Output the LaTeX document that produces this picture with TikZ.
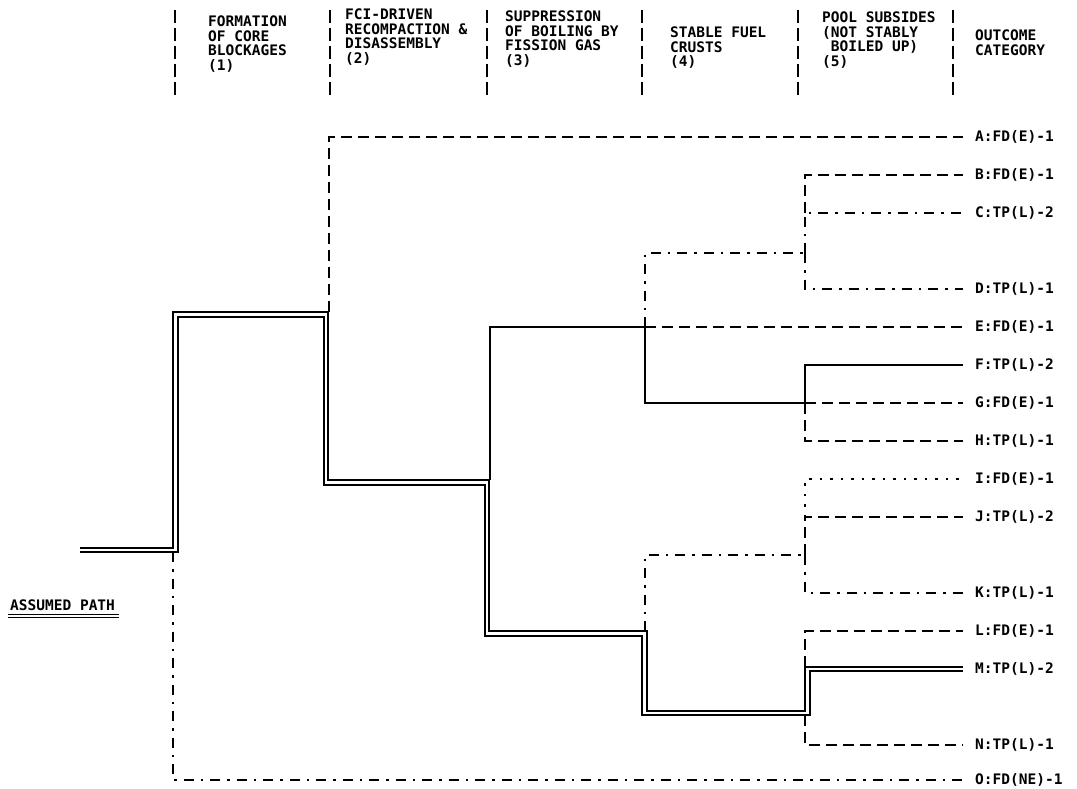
\documentclass[tikz,border=0pt]{standalone}
\usepackage{fontspec}
\newfontfamily\monofam{DejaVu Sans Mono}
\begin{document}
\begin{tikzpicture}[x=1pt,y=-1pt,
  ln/.style={line width=1.8pt, line join=miter},
  solidln/.style={ln},
  dashedln/.style={ln, dash pattern=on 11pt off 6pt},
  dashdot/.style={ln, dash pattern=on 10pt off 7pt on 2.5pt off 7pt},
  dottedln/.style={ln, dash pattern=on 2.5pt off 8pt},
  dbl/.style={line width=1.9pt, double=white, double distance=2.4pt, line join=miter},
  bar/.style={line width=2.4pt, dash pattern=on 13pt off 5pt},
  txt/.style={font=\monofam\bfseries\fontsize{14.5}{14.5}\selectfont},
  hdr/.style={txt, anchor=base west, inner sep=0pt},
  lbl/.style={txt, anchor=west, inner xsep=12pt, inner ysep=0pt}
]
\useasboundingbox (0,0) rectangle (1077,789);

% header separators
\foreach \xx in {175,330,487,642,798,953}
  \draw[bar] (\xx,10) -- (\xx,97);

% header texts
\node[hdr] (h1a) at (208,27) {FORMATION};
\node[hdr] (h1b) at (208,41.5) {OF CORE};
\node[hdr] (h1c) at (208,56) {BLOCKAGES};
\node[hdr] (h1d) at (208,70.5) {(1)};
\node[hdr] (h2a) at (345,20) {FCI-DRIVEN};
\node[hdr] (h2b) at (345,34.5) {RECOMPACTION \&};
\node[hdr] (h2c) at (345,49) {DISASSEMBLY};
\node[hdr] (h2d) at (345,63.5) {(2)};
\node[hdr] (h3a) at (505,22) {SUPPRESSION};
\node[hdr] (h3b) at (505,36.5) {OF BOILING BY};
\node[hdr] (h3c) at (505,51) {FISSION GAS};
\node[hdr] (h3d) at (505,65.5) {(3)};
\node[hdr] (h4a) at (670,38) {STABLE FUEL};
\node[hdr] (h4b) at (670,52.5) {CRUSTS};
\node[hdr] (h4c) at (670,67) {(4)};
\node[hdr] (h5a) at (822,23) {POOL SUBSIDES};
\node[hdr] (h5b) at (822,37.5) {(NOT STABLY};
\node[hdr] (h5c) at (822,52) {\ BOILED UP)};
\node[hdr] (h5d) at (822,66.5) {(5)};
\node[hdr] (h6a) at (975,41) {OUTCOME};
\node[hdr] (h6b) at (975,55.5) {CATEGORY};

% outcome labels
\node[lbl] (A) at (963,137) {A:FD(E)-1};
\node[lbl] (B) at (963,175) {B:FD(E)-1};
\node[lbl] (C) at (963,213) {C:TP(L)-2};
\node[lbl] (D) at (963,289) {D:TP(L)-1};
\node[lbl] (E) at (963,327) {E:FD(E)-1};
\node[lbl] (F) at (963,365) {F:TP(L)-2};
\node[lbl] (G) at (963,403) {G:FD(E)-1};
\node[lbl] (H) at (963,441) {H:TP(L)-1};
\node[lbl] (I) at (963,479) {I:FD(E)-1};
\node[lbl] (J) at (963,517) {J:TP(L)-2};
\node[lbl] (K) at (963,593) {K:TP(L)-1};
\node[lbl] (L) at (963,631) {L:FD(E)-1};
\node[lbl] (M) at (963,669) {M:TP(L)-2};
\node[lbl] (N) at (963,745) {N:TP(L)-1};
\node[lbl] (O) at (963,780) {O:FD(NE)-1};

% assumed path label
\node[hdr] (ap) at (10,610) {ASSUMED PATH};
\draw[line width=1.2pt, double=white, double distance=1.2pt] ([yshift=-6pt,xshift=-2pt]ap.base west) -- ([yshift=-6pt,xshift=4pt]ap.base east);

% junction coordinates
\coordinate (s) at (80,550);
\coordinate (j1) at (175.5,550);
\coordinate (j1t) at (175.5,314.5);
\coordinate (j2) at (326,314.5);
\coordinate (j2b) at (326,482.5);
\coordinate (j3) at (487,482.5);
\coordinate (j3b) at (487,633.5);
\coordinate (j4) at (644.5,633.5);
\coordinate (j4b) at (644.5,713);
\coordinate (j5) at (807.5,713);
\coordinate (j5t) at (807.5,669);

\coordinate (c1) at (173,552);
\coordinate (c2) at (329,312);
\coordinate (c3) at (490,480);
\coordinate (k4) at (645,327);
\coordinate (k5a) at (805,253);
\coordinate (k5b) at (805,403);
\coordinate (k4l) at (645,631);
\coordinate (k5c) at (805,555);
\coordinate (k5d) at (805,667);
\coordinate (k5e) at (805,715);

% branches
\draw[dashdot] (c1) -- (c1 |- O.west) -- (O.west);
\draw[dashedln] (c2) -- (c2 |- A.west) -- (A.west);
\draw[solidln] (c3) -- (c3 |- k4) -- (k4);
\draw[dashedln] (k4) -- (E.west);
\draw[dashdot] (k4) -- (k4 |- k5a) -- (k5a);
\draw[solidln] (k4) -- (k4 |- k5b) -- (k5b);
\draw[dashedln] (k5a |- C.west) -- (k5a |- B.west) -- (B.west);
\draw[dashdot] (k5a) -- (k5a |- C.west) -- (C.west);
\draw[dashdot] (k5a) -- (k5a |- D.west) -- (D.west);
\draw[solidln] (k5b) -- (k5b |- F.west) -- (F.west);
\draw[dashedln] (k5b) -- (G.west);
\draw[dashedln] (k5b) -- (k5b |- H.west) -- (H.west);
\draw[dashdot] (k4l) -- (k4l |- k5c) -- (k5c);
\draw[dashedln] (k5c) -- (k5c |- J.west) -- (J.west);
\draw[dottedln] (k5c |- J.west) -- (k5c |- I.west) -- (I.west);
\draw[dashdot] (k5c) -- (k5c |- K.west) -- (K.west);
\draw[dashedln] (k5d) -- (k5d |- L.west) -- (L.west);
\draw[dashedln] (k5e) -- (k5e |- N.west) -- (N.west);

% assumed (double) path
\draw[dbl] (s) -- (j1) -- (j1t) -- (j2) -- (j2b) -- (j3) -- (j3b) -- (j4) -- (j4b) -- (j5) -- (j5t) -- (M.west);
\end{tikzpicture}
\end{document}
